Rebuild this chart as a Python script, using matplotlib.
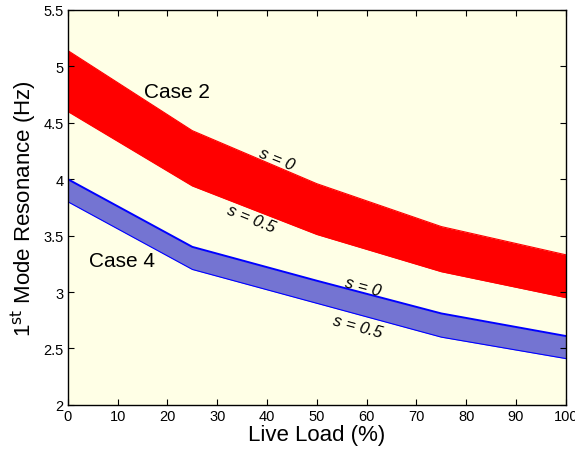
import numpy as np
import matplotlib
matplotlib.use('Agg')
import matplotlib.pyplot as plt

plt.rcParams['font.family'] = ['Liberation Sans', 'DejaVu Sans']

# 活載重 (%)
live_load = [0, 25, 50, 75, 100]
# Case 2 上下界 (s = 0 / s = 0.5)
case2_s0 = [5.14, 4.43, 3.96, 3.58, 3.33]
case2_s05 = [4.60, 3.94, 3.51, 3.18, 2.95]
# Case 4 上下界
case4_s0 = [4.00, 3.40, 3.10, 2.81, 2.61]
case4_s05 = [3.80, 3.20, 2.90, 2.60, 2.41]

x_ticks = list(range(0, 101, 10))
y_ticks = [2, 2.5, 3, 3.5, 4, 4.5, 5, 5.5]
y_tick_labels = ['2', '2.5', '3', '3.5', '4', '4.5', '5', '5.5']

fig = plt.figure(figsize=(5.75, 4.56), dpi=100)
ax = fig.add_axes([0.118, 0.110, 0.866, 0.866])
ax.set_facecolor('#ffffe6')

# Case 2 帶狀區域
ax.fill_between(live_load, case2_s05, case2_s0, color='#ff0000', linewidth=0)
ax.plot(live_load, case2_s0, color='#ff0000', linewidth=0.8)
ax.plot(live_load, case2_s05, color='#ff0000', linewidth=0.8)

# Case 4 帶狀區域
ax.fill_between(live_load, case4_s05, case4_s0, color='#7474d2', linewidth=0)
ax.plot(live_load, case4_s0, color='#0000ff', linewidth=1.4)
ax.plot(live_load, case4_s05, color='#0000ff', linewidth=0.8)

ax.set_xlim(0, 100)
ax.set_ylim(2, 5.5)
ax.set_xticks(x_ticks)
ax.set_yticks(y_ticks)
ax.set_yticklabels(y_tick_labels)
ax.tick_params(direction='in', top=True, right=True, labelsize=10.5, length=4, pad=3)
for sp in ax.spines.values():
    sp.set_linewidth(1.0)

ax.set_xlabel('Live Load (%)', fontsize=16, labelpad=1)
ax.set_ylabel('1$^{\\mathrm{st}}$ Mode Resonance (Hz)', fontsize=16, labelpad=3)

ax.text(22, 4.78, 'Case 2', fontsize=15, ha='center', va='center')
ax.text(10.8, 3.28, 'Case 4', fontsize=15, ha='center', va='center')

lab = dict(fontsize=12, ha='center', va='center', style='italic')
ax.text(41.9, 4.18, 's = 0', rotation=-22, **lab)
ax.text(36.9, 3.65, 's = 0.5', rotation=-22, **lab)
ax.text(59.2, 3.05, 's = 0', rotation=-15, **lab)
ax.text(58.2, 2.70, 's = 0.5', rotation=-15, **lab)

plt.savefig('out.png', dpi=100)
